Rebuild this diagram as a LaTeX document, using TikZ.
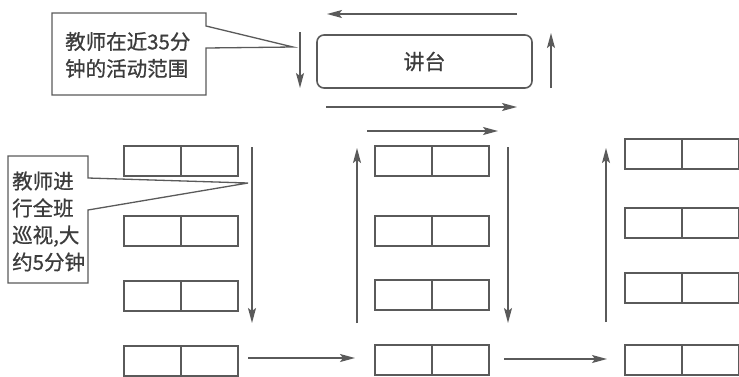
\documentclass[tikz,border=0pt]{standalone}
\usepackage{fontspec}
\setmainfont{Noto Sans CJK SC}[FakeBold=0.8]
\usetikzlibrary{arrows.meta}
\definecolor{ln}{HTML}{5A5A5A}
\definecolor{tx}{HTML}{3C3C3C}
\begin{document}
\begin{tikzpicture}[x=1pt,y=-1pt,
  halfdesk/.style={draw=ln,line width=1.8pt,minimum width=57pt,minimum height=30pt,inner sep=0pt,anchor=north west},
  walk/.style={draw=ln,line width=1.4pt,-{Stealth[length=15pt,width=8pt,inset=3pt]}},
  callout/.style={draw=ln,line width=1.3pt,fill=white},
  lbl/.style={text=tx,font=\fontsize{20.5}{27}\selectfont,align=left,inner sep=0pt,anchor=west}]
\useasboundingbox (0,0) rectangle (739,376);
% lectern
\node[draw=ln,line width=1.6pt,rounded corners=7pt,minimum width=215pt,minimum height=53pt,
      text=tx,font=\fontsize{21}{24}\selectfont] (podium) at (424.5,61.5) {讲台};
% desks
\foreach \n/\x/\y in {a1/123/145,a2/123/215,a3/123/280,a4/123/345,
                      b1/374/145,b2/374/215,b3/374/279,b4/374/344,
                      c1/624/138,c2/624/207,c3/624/272,c4/624/344}{
  \node[halfdesk] (\n L) at (\x,\y) {};
  \node[halfdesk] (\n R) at (\x+57,\y) {};
}
% walking path coordinates
\coordinate (p1s) at (300,32);  \coordinate (p1e) at (300,88);
\coordinate (p2s) at (326,107); \coordinate (p2e) at (517,107);
\coordinate (p3s) at (551,88);  \coordinate (p3e) at (551,33);
\coordinate (p4s) at (517,14);  \coordinate (p4e) at (327,14);
\coordinate (q0s) at (367,131); \coordinate (q0e) at (498,131);
\coordinate (q1s) at (252,147); \coordinate (q1e) at (252,323);
\coordinate (q2s) at (248,358); \coordinate (q2e) at (355,358);
\coordinate (q3s) at (357,323); \coordinate (q3e) at (357,148);
\coordinate (q4s) at (508,147); \coordinate (q4e) at (508,323);
\coordinate (q5s) at (504,359); \coordinate (q5e) at (607,359);
\coordinate (q6s) at (606,322); \coordinate (q6e) at (606,148);
\foreach \a in {p1,p2,p3,p4,q0,q1,q2,q3,q4,q5,q6}{
  \draw[walk] (\a s) -- (\a e);
}
% callout 1
\coordinate (tip1) at (293,47);
\draw[callout] (52,13) -- (206,13) -- (206,26) -- (tip1) -- (206,48) -- (206,95) -- (52,95) -- cycle;
\node[lbl] (note1) at (65,55) {教师在近35分\\钟的活动范围};
% callout 2
\coordinate (tip2) at (248,183);
\draw[callout] (8,156) -- (88,156) -- (88,178) -- (tip2) -- (88,210) -- (88,283) -- (8,283) -- cycle;
\node[lbl] (note2) at (12,221.5) {教师进\\行全班\\巡视,大\\约5分钟};
\end{tikzpicture}
\end{document}
